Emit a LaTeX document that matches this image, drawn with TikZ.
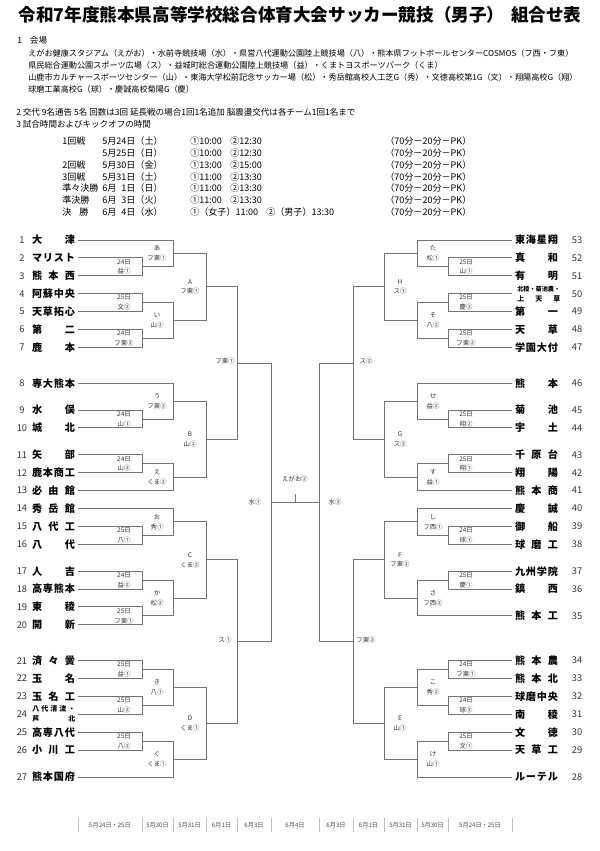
\documentclass[tikz,border=0pt]{standalone}
\usepackage{fontspec}
\setmainfont{Noto Sans CJK JP}
\usetikzlibrary{calc}
\makeatletter
\newcommand\spreadtxt[1]{\def\sp@sep{}\@tfor\sp@c:=#1\do{\sp@sep\sp@c\def\sp@sep{\hfill}}}
\makeatother
\newcommand\tw{32.25pt}
\newcommand\bk[4]{%
  \draw[br] (#2) -- (#2 -| #4) -- (#3 -| #4) -- (#3);
  \coordinate (#1) at ($(#2 -| #4)!0.5!(#3 -| #4)$);}
\newcommand\teamL[3]{%
  \node[num] (nL#1) at (22,{240+17.9*#2}) {#1};
  \node[tname,anchor=west] (tL#1) at (29,{240+17.9*#2}) {\makebox[\tw][s]{\spreadtxt{#3}}};}
\newcommand\teamR[3]{%
  \node[num] (nR#1) at (577,{240+17.9*#2}) {#1};
  \node[tname,anchor=east] (tR#1) at (561,{240+17.9*#2}) {\makebox[\tw][s]{\spreadtxt{#3}}};}
\begin{document}
\begin{tikzpicture}[x=0.75pt,y=-0.75pt,
  br/.style={draw=black!55,line width=0.75pt},
  tname/.style={inner sep=0pt,outer xsep=2.25pt,font=\bfseries\fontsize{7.6}{8}\selectfont},
  tsmall/.style={inner sep=0pt,anchor=west,font=\bfseries\fontsize{5.2}{6}\selectfont},
  num/.style={inner sep=0pt,font=\fontsize{7}{8}\selectfont,text=black!80},
  lab/.style={inner sep=0pt,align=center,font=\fontsize{4.8}{7.4}\selectfont,text=black!80},
  body/.style={inner sep=0pt,anchor=west,font=\fontsize{6.4}{7}\selectfont},
  venue/.style={inner sep=0pt,anchor=west,font=\fontsize{6.1}{7}\selectfont},
  sched/.style={inner sep=0pt,anchor=west,font=\fontsize{6.8}{7}\selectfont},
  dlab/.style={inner sep=0pt,font=\fontsize{4.6}{5}\selectfont,text=black!70},
  sep/.style={draw=black!25,line width=0.5pt}]
\fill[white] (0,0) rectangle (600,851);
\useasboundingbox (0,0) rectangle (600,851);

% ---------- header ----------
\node[font=\bfseries\fontsize{13.2}{15}\selectfont,inner sep=0pt] (title) at (300,15)
  {令和7年度熊本県高等学校総合体育大会サッカー競技（男子）\hspace{5pt}組合せ表};
\node[body] (sec1) at (17,40) {1\hspace{6pt}会場};
\node[venue] (v1) at (28,53) {えがお健康スタジアム（えがお）・水前寺競技場（水）・県営八代運動公園陸上競技場（八）・熊本県フットボールセンターCOSMOS（フ西・フ東）};
\node[venue] (v2) at (28,65) {県民総合運動公園スポーツ広場（ス）・益城町総合運動公園陸上競技場（益）・くまトヨスポーツパーク（くま）};
\node[venue] (v3) at (28,77) {山鹿市カルチャースポーツセンター（山）・東海大学松前記念サッカー場（松）・秀岳館高校人工芝G（秀）・文徳高校第1G（文）・翔陽高校G（翔）};
\node[venue] (v4) at (28,89) {球磨工業高校G（球）・慶誠高校菊陽G（慶）};
\node[body] (sec2) at (16,112) {2 交代 9名通告 5名 回数は3回 延長戦の場合1回1名追加 脳震盪交代は各チーム1回1名まで};
\node[body] (sec3) at (16,124) {3 試合時間およびキックオフの時間};
% schedule
\node[sched] (r1a) at (62,141) {1回戦};
\node[sched] (r1b) at (102,141) {5月24日（土）};
\node[sched] (r1c) at (190,141) {①10:00};
\node[sched] (r1e) at (230,141) {②12:30};
\node[sched] (r1d) at (385,141) {（70分－20分－PK）};
\node[sched] (r2b) at (102,153) {5月25日（日）};
\node[sched] (r2c) at (190,153) {①10:00};
\node[sched] (r2e) at (230,153) {②12:30};
\node[sched] (r2d) at (385,153) {（70分－20分－PK）};
\node[sched] (r3a) at (62,165) {2回戦};
\node[sched] (r3b) at (102,165) {5月30日（金）};
\node[sched] (r3c) at (190,165) {①13:00};
\node[sched] (r3e) at (230,165) {②15:00};
\node[sched] (r3d) at (385,165) {（70分－20分－PK）};
\node[sched] (r4a) at (62,177) {3回戦};
\node[sched] (r4b) at (102,177) {5月31日（土）};
\node[sched] (r4c) at (190,177) {①11:00};
\node[sched] (r4e) at (230,177) {②13:30};
\node[sched] (r4d) at (385,177) {（70分－20分－PK）};
\node[sched] (r5a) at (62,188) {準々決勝};
\node[sched] (r5b) at (102,188) {6月\phantom{2}1日（日）};
\node[sched] (r5c) at (190,188) {①11:00};
\node[sched] (r5e) at (230,188) {②13:30};
\node[sched] (r5d) at (385,188) {（70分－20分－PK）};
\node[sched] (r6a) at (62,200) {準決勝};
\node[sched] (r6b) at (102,200) {6月\phantom{2}3日（火）};
\node[sched] (r6c) at (190,200) {①11:00};
\node[sched] (r6e) at (230,200) {②13:30};
\node[sched] (r6d) at (385,200) {（70分－20分－PK）};
\node[sched] (r7a) at (62,212) {決\hspace{0.9em}勝};
\node[sched] (r7b) at (102,212) {6月\phantom{2}4日（水）};
\node[sched] (r7c) at (190,212) {①（女子）11:00};
\node[sched] (r7e) at (266,212) {②（男子）13:30};
\node[sched] (r7d) at (385,212) {（70分－20分－PK）};

% ---------- teams ----------
\teamL{1}{0}{大津}
\teamL{2}{1}{マリスト}
\teamL{3}{2}{熊本西}
\teamL{4}{3}{阿蘇中央}
\teamL{5}{4}{天草拓心}
\teamL{6}{5}{第二}
\teamL{7}{6}{鹿本}
\teamL{8}{8}{専大熊本}
\teamL{9}{9.5}{水俣}
\teamL{10}{10.5}{城北}
\teamL{11}{12}{矢部}
\teamL{12}{13}{鹿本商工}
\teamL{13}{14}{必由館}
\teamL{14}{15}{秀岳館}
\teamL{15}{16}{八代工}
\teamL{16}{17}{八代}
\teamL{17}{18.5}{人吉}
\teamL{18}{19.5}{高専熊本}
\teamL{19}{20.5}{東稜}
\teamL{20}{21.5}{開新}
\teamL{21}{23.5}{済々黌}
\teamL{22}{24.5}{玉名}
\teamL{23}{25.5}{玉名工}
\node[num] (nL24) at (22,{240+17.9*26.5}) {24};
\node[tname,anchor=west] (tL24) at (29,{240+17.9*26.5}) {\makebox[\tw]{}};
\node[tsmall] (tL24a) at (32,{240+17.9*26.5-5}) {\makebox[\tw][s]{\spreadtxt{八代清流・}}};
\node[tsmall] (tL24b) at (32,{240+17.9*26.5+5}) {\makebox[\tw][s]{\spreadtxt{芦北}}};
\teamL{25}{27.5}{高専八代}
\teamL{26}{28.5}{小川工}
\teamL{27}{30}{熊本国府}

\teamR{53}{0}{東海星翔}
\teamR{52}{1}{真和}
\teamR{51}{2}{有明}
\node[num] (nR50) at (577,{240+17.9*3}) {50};
\node[tname,anchor=east] (tR50) at (561,{240+17.9*3}) {\makebox[\tw]{}};
\node[tsmall,font=\bfseries\fontsize{4.6}{5}\selectfont] (tR50a) at (517,{240+17.9*3-5}) {\makebox[\tw][s]{\spreadtxt{北稜・菊池農・}}};
\node[tsmall] (tR50b) at (517,{240+17.9*3+5}) {\makebox[\tw][s]{\spreadtxt{上天草}}};
\teamR{49}{4}{第一}
\teamR{48}{5}{天草}
\teamR{47}{6}{学園大付}
\teamR{46}{8}{熊本}
\teamR{45}{9.5}{菊池}
\teamR{44}{10.5}{宇土}
\teamR{43}{12}{千原台}
\teamR{42}{13}{翔陽}
\teamR{41}{14}{熊本商}
\teamR{40}{15}{慶誠}
\teamR{39}{16}{御船}
\teamR{38}{17}{球磨工}
\teamR{37}{18.5}{九州学院}
\teamR{36}{19.5}{鎮西}
\teamR{35}{21}{熊本工}
\teamR{34}{23.5}{熊本農}
\teamR{33}{24.5}{熊本北}
\teamR{32}{25.5}{球磨中央}
\teamR{31}{26.5}{南稜}
\teamR{30}{27.5}{文徳}
\teamR{29}{28.5}{天草工}
\teamR{28}{30}{ルーテル}

% ---------- column positions ----------
\coordinate (xL1) at (142,0); \coordinate (xL2) at (173,0); \coordinate (xL3) at (206,0);
\coordinate (xL4) at (237,0); \coordinate (xL5) at (271,0);
\coordinate (xR1) at (448,0); \coordinate (xR2) at (417,0); \coordinate (xR3) at (384,0);
\coordinate (xR4) at (353,0); \coordinate (xR5) at (319,0);

% ---------- left bracket ----------
\bk{a23}{tL2.east}{tL3.east}{xL1}
\bk{a45}{tL4.east}{tL5.east}{xL1}
\bk{a67}{tL6.east}{tL7.east}{xL1}
\bk{a910}{tL9.east}{tL10.east}{xL1}
\bk{a1112}{tL11.east}{tL12.east}{xL1}
\bk{a1516}{tL15.east}{tL16.east}{xL1}
\bk{a1718}{tL17.east}{tL18.east}{xL1}
\bk{a1920}{tL19.east}{tL20.east}{xL1}
\bk{a2122}{tL21.east}{tL22.east}{xL1}
\bk{a2324}{tL23.east}{tL24.east}{xL1}
\bk{a2526}{tL25.east}{tL26.east}{xL1}
\bk{bA}{tL1.east}{a23}{xL2}
\bk{bI}{a45}{a67}{xL2}
\bk{bU}{tL8.east}{a910}{xL2}
\bk{bE}{a1112}{tL13.east}{xL2}
\bk{bO}{tL14.east}{a1516}{xL2}
\bk{bKa}{a1718}{a1920}{xL2}
\bk{bKi}{a2122}{a2324}{xL2}
\bk{bKu}{a2526}{tL27.east}{xL2}
\bk{cA}{bA}{bI}{xL3}
\bk{cB}{bU}{bE}{xL3}
\bk{cC}{bO}{bKa}{xL3}
\bk{cD}{bKi}{bKu}{xL3}
\bk{dL1}{cA}{cB}{xL4}
\bk{dL2}{cC}{cD}{xL4}
\bk{fL}{dL1}{dL2}{xL5}

% ---------- right bracket ----------
\bk{r5251}{tR52.west}{tR51.west}{xR1}
\bk{r5049}{tR50.west}{tR49.west}{xR1}
\bk{r4847}{tR48.west}{tR47.west}{xR1}
\bk{r4544}{tR45.west}{tR44.west}{xR1}
\bk{r4342}{tR43.west}{tR42.west}{xR1}
\bk{r3938}{tR39.west}{tR38.west}{xR1}
\bk{r3736}{tR37.west}{tR36.west}{xR1}
\bk{r3433}{tR34.west}{tR33.west}{xR1}
\bk{r3231}{tR32.west}{tR31.west}{xR1}
\bk{r3029}{tR30.west}{tR29.west}{xR1}
\bk{sTa}{tR53.west}{r5251}{xR2}
\bk{sSo}{r5049}{r4847}{xR2}
\bk{sSe}{tR46.west}{r4544}{xR2}
\bk{sSu}{r4342}{tR41.west}{xR2}
\bk{sShi}{tR40.west}{r3938}{xR2}
\bk{sSa}{r3736}{tR35.west}{xR2}
\bk{sKo}{r3433}{r3231}{xR2}
\bk{sKe}{r3029}{tR28.west}{xR2}
\bk{tH}{sTa}{sSo}{xR3}
\bk{tG}{sSe}{sSu}{xR3}
\bk{tF}{sShi}{sSa}{xR3}
\bk{tE}{sKo}{sKe}{xR3}
\bk{dR1}{tH}{tG}{xR4}
\bk{dR2}{tF}{tE}{xR4}
\bk{fR}{dR1}{dR2}{xR5}

% ---------- final ----------
\draw[br] (fL) -- (fR);
\coordinate (fM) at ($(fL)!0.5!(fR)$);
\coordinate (fT) at ($(fM)+(0,-8)$);
\draw[br] (fM) -- (fT);
\node[lab] (labF) at ($(fM)+(0,-23)$) {えがお②};

% ---------- labels left ----------
\node[lab] (la1) at ($(a23)+(-18,0)$) {24日\\益①};
\node[lab] (la2) at ($(a45)+(-18,0)$) {25日\\文②};
\node[lab] (la3) at ($(a67)+(-18,0)$) {24日\\フ東②};
\node[lab] (la4) at ($(a910)+(-18,0)$) {24日\\山①};
\node[lab] (la5) at ($(a1112)+(-18,0)$) {24日\\山②};
\node[lab] (la6) at ($(a1516)+(-18,0)$) {25日\\八①};
\node[lab] (la7) at ($(a1718)+(-18,0)$) {24日\\益②};
\node[lab] (la8) at ($(a1920)+(-18,0)$) {25日\\フ東①};
\node[lab] (la9) at ($(a2122)+(-18,0)$) {25日\\益①};
\node[lab] (la10) at ($(a2324)+(-18,0)$) {25日\\山②};
\node[lab] (la11) at ($(a2526)+(-18,0)$) {25日\\八②};
\node[lab] (lb1) at ($(bA)+(-16,0)$) {あ\\フ東①};
\node[lab] (lb2) at ($(bI)+(-16,0)$) {い\\山②};
\node[lab] (lb3) at ($(bU)+(-16,0)$) {う\\フ東②};
\node[lab] (lb4) at ($(bE)+(-16,0)$) {え\\くま②};
\node[lab] (lb5) at ($(bO)+(-16,0)$) {お\\秀①};
\node[lab] (lb6) at ($(bKa)+(-16,0)$) {か\\松②};
\node[lab] (lb7) at ($(bKi)+(-16,0)$) {き\\八①};
\node[lab] (lb8) at ($(bKu)+(-16,0)$) {く\\くま①};
\node[lab] (lc1) at ($(cA)+(-16,0)$) {A\\フ東①};
\node[lab] (lc2) at ($(cB)+(-16,0)$) {B\\山②};
\node[lab] (lc3) at ($(cC)+(-16,0)$) {C\\くま②};
\node[lab] (lc4) at ($(cD)+(-16,0)$) {D\\くま①};
\node[lab] (ld1) at ($(dL1)+(-12,-2)$) {フ東①};
\node[lab] (ld2) at ($(dL2)+(-12,-2)$) {ス①};
\node[lab] (le1) at ($(fL)+(-16,0)$) {水①};

% ---------- labels right ----------
\node[lab] (ra1) at ($(r5251)+(18,0)$) {25日\\山①};
\node[lab] (ra2) at ($(r5049)+(18,0)$) {25日\\慶②};
\node[lab] (ra3) at ($(r4847)+(18,0)$) {25日\\フ東②};
\node[lab] (ra4) at ($(r4544)+(18,0)$) {25日\\翔②};
\node[lab] (ra5) at ($(r4342)+(18,0)$) {25日\\翔①};
\node[lab] (ra6) at ($(r3938)+(18,0)$) {24日\\球①};
\node[lab] (ra7) at ($(r3736)+(18,0)$) {25日\\慶①};
\node[lab] (ra8) at ($(r3433)+(18,0)$) {24日\\フ東①};
\node[lab] (ra9) at ($(r3231)+(18,0)$) {24日\\球②};
\node[lab] (ra10) at ($(r3029)+(18,0)$) {25日\\文①};
\node[lab] (rb1) at ($(sTa)+(16,0)$) {た\\松①};
\node[lab] (rb2) at ($(sSo)+(16,0)$) {そ\\八②};
\node[lab] (rb3) at ($(sSe)+(16,0)$) {せ\\益②};
\node[lab] (rb4) at ($(sSu)+(16,0)$) {す\\益①};
\node[lab] (rb5) at ($(sShi)+(16,0)$) {し\\フ西①};
\node[lab] (rb6) at ($(sSa)+(16,0)$) {さ\\フ西②};
\node[lab] (rb7) at ($(sKo)+(16,0)$) {こ\\秀②};
\node[lab] (rb8) at ($(sKe)+(16,0)$) {け\\山①};
\node[lab] (rc1) at ($(tH)+(16,0)$) {H\\ス①};
\node[lab] (rc2) at ($(tG)+(16,0)$) {G\\ス②};
\node[lab] (rc3) at ($(tF)+(16,0)$) {F\\フ東②};
\node[lab] (rc4) at ($(tE)+(16,0)$) {E\\山①};
\node[lab] (rd1) at ($(dR1)+(13,-2)$) {ス②};
\node[lab] (rd2) at ($(dR2)+(13,-2)$) {フ東②};
\node[lab] (re1) at ($(fR)+(16,0)$) {水②};

% ---------- date row ----------
\foreach \sx [count=\i] in {78,142,173,206,237,271,319,353,384,417,448,512}
  \draw[sep] (\sx,818) -- (\sx,832);
\node[dlab] (dd1) at (110,825) {5月24日・25日};
\node[dlab] (dd2) at (157.5,825) {5月30日};
\node[dlab] (dd3) at (189.5,825) {5月31日};
\node[dlab] (dd4) at (221.5,825) {6月1日};
\node[dlab] (dd5) at (254,825) {6月3日};
\node[dlab] (dd6) at (295,825) {6月4日};
\node[dlab] (dd7) at (336,825) {6月3日};
\node[dlab] (dd8) at (368.5,825) {6月1日};
\node[dlab] (dd9) at (400.5,825) {5月31日};
\node[dlab] (dd10) at (432.5,825) {5月30日};
\node[dlab] (dd11) at (480,825) {5月24日・25日};
\end{tikzpicture}
\end{document}
